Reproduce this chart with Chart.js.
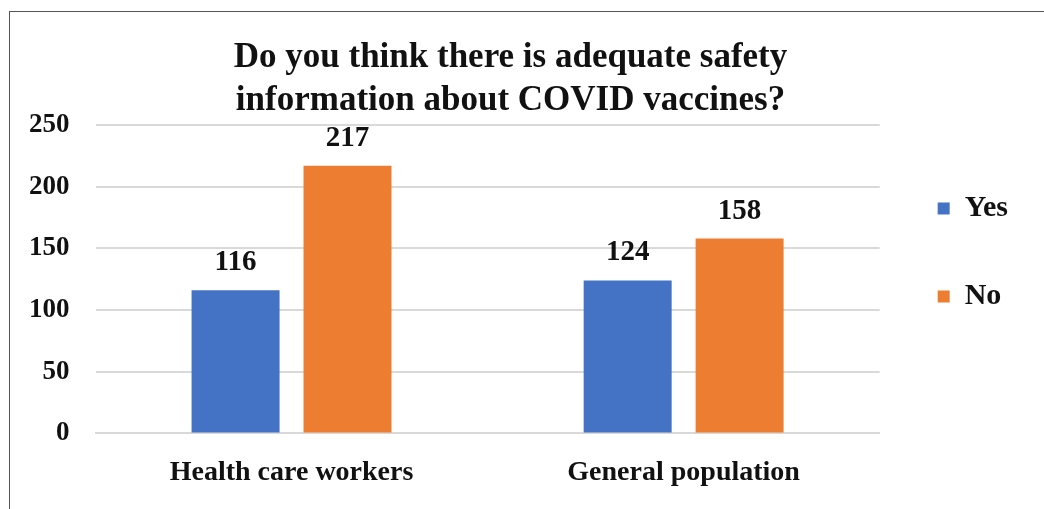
<!DOCTYPE html>
<html>
<head>
<meta charset="utf-8">
<script src="https://cdn.jsdelivr.net/npm/chart.js@4"></script>
<style>
  html, body { margin: 0; padding: 0; background: #fff; }
  #wrap { position: relative; width: 1044px; height: 509px; }
  #frame { position: absolute; left: 9px; top: 11px; right: 0; bottom: 0;
           border-left: 1px solid #555; border-top: 1px solid #555; pointer-events: none; }
</style>
</head>
<body>
<div id="wrap">
  <canvas id="graph" width="1044" height="509"></canvas>
  <div id="frame"></div>
</div>
<script>
const titleLines = ["Do you think there is adequate safety", "information about COVID vaccines?"];
const categories = ["Health care workers", "General population"];
const seriesNames = ["Yes", "No"];
const yesValues = [116, 124];
const noValues = [217, 158];
const yTicks = [0, 50, 100, 150, 200, 250];

const colors = ["#4472C4", "#ED7D31"];
const serif = "'Liberation Serif', 'Times New Roman', serif";

// draws the value above each bar
const barLabels = {
  id: "barLabels",
  afterDatasetsDraw(chart) {
    const ctx = chart.ctx;
    ctx.save();
    ctx.font = "bold 29px " + serif;
    ctx.fillStyle = "#111";
    ctx.textAlign = "center";
    ctx.textBaseline = "bottom";
    chart.data.datasets.forEach((ds, i) => {
      chart.getDatasetMeta(i).data.forEach((bar, j) => {
        ctx.fillText(ds.data[j], bar.x, bar.y - 13);
      });
    });
    ctx.restore();
  }
};

new Chart(document.getElementById("graph"), {
  type: "bar",
  data: {
    labels: categories,
    datasets: [
      { label: seriesNames[0], data: yesValues, backgroundColor: colors[0] },
      { label: seriesNames[1], data: noValues, backgroundColor: colors[1] },
    ],
  },
  options: {
    responsive: false,
    animation: false,
    layout: { padding: { left: 3, right: 26, bottom: 4 } },
    categoryPercentage: 0.571,
    barPercentage: 0.786,
    plugins: {
      title: {
        display: true,
        text: titleLines,
        color: "#111",
        font: { family: serif, size: 35, weight: "bold", lineHeight: 1.23 },
        padding: { top: 36, bottom: 3 },
      },
      legend: {
        position: "right",
        align: "center",
        labels: {
          color: "#111",
          font: { family: serif, size: 30, weight: "bold" },
          boxWidth: 12,
          boxHeight: 12,
          padding: 58,
        },
      },
      tooltip: { enabled: false },
    },
    scales: {
      x: {
        grid: { display: false },
        border: { display: true, color: "#D9D9D9", width: 2 },
        ticks: {
          color: "#111",
          padding: 15,
          font: { family: serif, size: 28, weight: "bold" },
        },
      },
      y: {
        min: 0,
        max: 250,
        afterBuildTicks: (axis) => { axis.ticks = yTicks.map((v) => ({ value: v })); },
        border: { display: false },
        grid: { color: "#D9D9D9", lineWidth: 2, drawTicks: false },
        ticks: {
          color: "#111",
          padding: 26,
          font: { family: serif, size: 27, weight: "bold" },
        },
      },
    },
  },
  plugins: [barLabels],
});
</script>
</body>
</html>
